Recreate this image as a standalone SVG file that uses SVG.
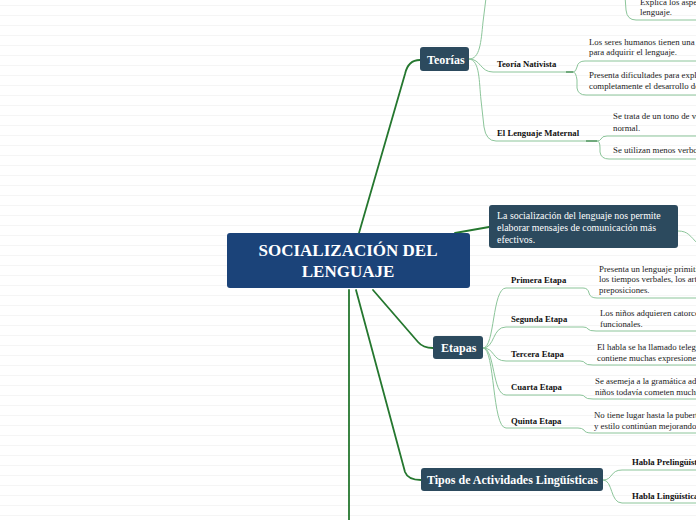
<svg xmlns="http://www.w3.org/2000/svg" width="696" height="520" viewBox="0 0 696 520">
<defs>
<pattern id="ruled" width="696" height="10" patternUnits="userSpaceOnUse">
<rect width="696" height="10" fill="#ffffff"/>
<rect y="5" width="696" height="1" fill="#f5f5f5"/>
</pattern>
<style>
.main{fill:none;stroke:#25772f;stroke-width:1.8;stroke-linecap:round}
.sub{fill:none;stroke:#8cc59a;stroke-width:1}
.dk{fill:none;stroke:#5a9c68;stroke-width:1.6}
.central{fill:#1b4379}
.topic{fill:#2c4a5e}
.ct{font-family:"Liberation Serif",serif;font-weight:bold;font-size:17px;fill:#fff;text-anchor:middle}
.tt{font-family:"Liberation Serif",serif;font-weight:bold;font-size:12px;fill:#fff}
.st{font-family:"Liberation Serif",serif;font-size:9.9px;fill:#fff}
.lb{font-family:"Liberation Serif",serif;font-weight:bold;font-size:8.7px;fill:#111}
.lf{font-family:"Liberation Serif",serif;font-size:8.8px;fill:#222}
</style>
</defs>
<rect width="696" height="520" fill="url(#ruled)"/>

<g id="connectors">
<path class="main" d="M359,233 L405,74 Q408,60 420,60"/>
<path class="main" d="M455,233 L489,227"/>
<path class="main" d="M373,290 L418,342 Q423,348 433,348"/>
<path class="main" d="M356,290 L405,472 Q408,480 421,480"/>
<path class="main" d="M349,290 L349,522"/>
<path class="sub" d="M678,231 C688,231 690,236 698,244"/>
<path class="sub" d="M469,59 C480,59 481,42 483,22 L486,-2"/>
<path class="sub" d="M469,59 C481,59 480,72 493,72 H573"/>
<path class="sub" d="M469,59 C480,60 479,82 481,100 L484,127 Q486,141 496,141 H597"/>
<path class="dk" d="M566,72 H573"/>
<path class="dk" d="M586,141 H597"/>
<path class="sub" d="M573,72 Q576,72 577,67 Q578,61 585,61 H698"/>
<path class="sub" d="M573,72 Q576,72 577,80 L577,88 Q578,95 586,95 H698"/>
<path class="sub" d="M597,141 Q600,141 601,139 Q602,136 607,136 H698"/>
<path class="sub" d="M597,141 Q600,141 600,148 L600,152 Q601,159 609,159 H698"/>
<path class="sub" d="M625,-4 L626,10 Q627,20 636,20 H698"/>
<path class="sub" d="M483,348 C495,348 492,288 506,288 H583"/>
<path class="sub" d="M483,348 C495,348 492,327 506,327 H583"/>
<path class="sub" d="M483,348 C495,348 492,361 506,361 H580"/>
<path class="sub" d="M483,348 C495,348 492,395 506,395 H580"/>
<path class="sub" d="M483,348 C495,348 492,428 506,428 H578"/>
<path class="sub" d="M583,288 Q588,288 589,293 Q590,298 597,298 H698"/>
<path class="sub" d="M583,327 Q587,327 588,329 Q589,331 596,331 H698"/>
<path class="sub" d="M580,361 Q584,361 585,363 Q586,365 593,365 H698"/>
<path class="sub" d="M580,395 Q584,395 585,397 Q586,399 593,399 H698"/>
<path class="sub" d="M578,428 Q582,428 584,430 Q585,433 592,433 H698"/>
<path class="sub" d="M603,480 C613,480 610,470 622,470 H698"/>
<path class="sub" d="M603,480 C613,480 610,503 622,503 H698"/>
</g>

<g id="central">
<rect class="central" x="227" y="233" width="243" height="55" rx="3"/>
<text class="ct" x="348" y="256">SOCIALIZACIÓN DEL</text>
<text class="ct" x="348" y="277">LENGUAJE</text>
</g>

<g id="teorias">
<rect class="topic" x="420" y="47" width="49" height="24" rx="3"/>
<text class="tt" x="427" y="64">Teorías</text>
</g>

<g id="socializacion">
<rect class="topic" x="489" y="205" width="189" height="43" rx="3"/>
<text class="st" x="497" y="219">La socialización del lenguaje nos permite</text>
<text class="st" x="497" y="231">elaborar mensajes de comunicación más</text>
<text class="st" x="497" y="243">efectivos.</text>
</g>

<g id="etapas">
<rect class="topic" x="433" y="336" width="50" height="23" rx="3"/>
<text class="tt" x="441" y="352">Etapas</text>
</g>

<g id="tipos">
<rect class="topic" x="421" y="468" width="182" height="23" rx="3"/>
<text class="tt" x="427" y="484">Tipos de Actividades Lingüísticas</text>
</g>

<g id="leaf-explica">
<text class="lf" x="640" y="5">Explica los aspectos</text>
<text class="lf" x="640" y="15">lenguaje.</text>
</g>

<g id="teoria-nativista">
<text class="lb" x="497" y="67">Teoría Nativista</text>
</g>
<g id="leaf-nativista-1">
<text class="lf" x="589" y="45">Los seres humanos tienen una</text>
<text class="lf" x="589" y="55">para adquirir el lenguaje.</text>
</g>
<g id="leaf-nativista-2">
<text class="lf" x="589" y="78">Presenta dificultades para explicar</text>
<text class="lf" x="589" y="89">completamente el desarrollo del</text>
</g>

<g id="lenguaje-maternal">
<text class="lb" x="497" y="136">El Lenguaje Maternal</text>
</g>
<g id="leaf-maternal-1">
<text class="lf" x="613" y="119">Se trata de un tono de voz</text>
<text class="lf" x="613" y="131">normal.</text>
</g>
<g id="leaf-maternal-2">
<text class="lf" x="613" y="153">Se utilizan menos verbos</text>
</g>

<g id="primera-etapa">
<text class="lb" x="511" y="283">Primera Etapa</text>
</g>
<g id="leaf-primera">
<text class="lf" x="599" y="272">Presenta un lenguaje primitivo,</text>
<text class="lf" x="599" y="282">los tiempos verbales, los artículos</text>
<text class="lf" x="599" y="293">preposiciones.</text>
</g>

<g id="segunda-etapa">
<text class="lb" x="511" y="322">Segunda Etapa</text>
</g>
<g id="leaf-segunda">
<text class="lf" x="600" y="316">Los niños adquieren catorce</text>
<text class="lf" x="600" y="327">funcionales.</text>
</g>

<g id="tercera-etapa">
<text class="lb" x="511" y="357">Tercera Etapa</text>
</g>
<g id="leaf-tercera">
<text class="lf" x="597" y="350">El habla se ha llamado telegráfico</text>
<text class="lf" x="597" y="361">contiene muchas expresiones</text>
</g>

<g id="cuarta-etapa">
<text class="lb" x="511" y="390">Cuarta Etapa</text>
</g>
<g id="leaf-cuarta">
<text class="lf" x="595" y="384">Se asemeja a la gramática adulta</text>
<text class="lf" x="595" y="395">niños todavía cometen muchos</text>
</g>

<g id="quinta-etapa">
<text class="lb" x="511" y="424">Quinta Etapa</text>
</g>
<g id="leaf-quinta">
<text class="lf" x="594" y="418">No tiene lugar hasta la pubertad</text>
<text class="lf" x="594" y="429">y estilo continúan mejorando</text>
</g>

<g id="habla-prelinguistica">
<text class="lb" x="632" y="465">Habla Prelingüística</text>
</g>
<g id="habla-linguistica">
<text class="lb" x="632" y="499">Habla Lingüística</text>
</g>
</svg>
